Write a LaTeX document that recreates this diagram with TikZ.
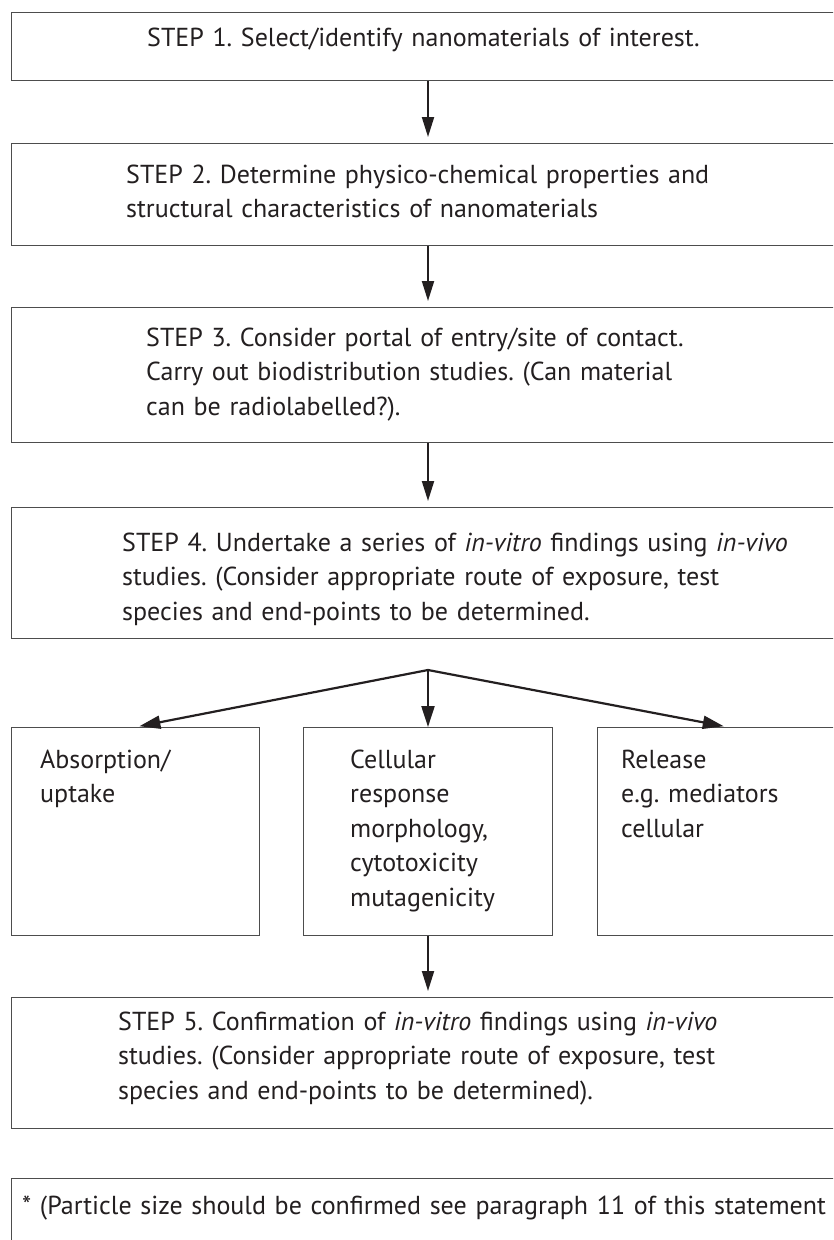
\documentclass[tikz,border=0pt]{standalone}
\usepackage{fontspec}
\setmainfont{PT Sans}
\usetikzlibrary{arrows.meta}
\definecolor{ink}{HTML}{231F20}
\definecolor{boxgray}{HTML}{4D4D4D}
\frenchspacing
\begin{document}
\begin{tikzpicture}[x=1pt,y=-1pt,
  box/.style={draw=boxgray, line width=1.4pt, rectangle, inner sep=0pt, anchor=north west},
  txt/.style={anchor=base west, inner sep=0pt, align=left, text width=760pt,
    font=\fontsize{26}{34.5}\selectfont, text=ink},
  arr/.style={line width=2pt, draw=ink, -{Triangle[length=20pt,width=12pt]}, shorten >=6pt},
  brarr/.style={line width=2.2pt, draw=ink, -{Triangle[length=21pt,width=13pt]}}
]
\useasboundingbox (0,0) rectangle (833,1240);
\clip (0,0) rectangle (833,1240);
\fill[white] (0,0) rectangle (833,1240);

% boxes
\node[box, minimum width=838pt, minimum height=68pt]  (b1) at (10.5,12) {};
\node[box, minimum width=838pt, minimum height=102pt] (b2) at (10.5,143) {};
\node[box, minimum width=838pt, minimum height=135pt] (b3) at (10.5,307) {};
\node[box, minimum width=838pt, minimum height=131pt] (b4) at (10.5,507) {};
\node[box, minimum width=248.5pt, minimum height=208pt] (sa) at (10.5,727) {};
\node[box, minimum width=249pt, minimum height=208pt] (sb) at (303,727) {};
\node[box, minimum width=260pt, minimum height=208pt] (sc) at (597,727) {};
\node[box, minimum width=838pt, minimum height=131pt] (b5) at (10.5,997) {};
\node[box, minimum width=838pt, minimum height=120pt] (fn) at (11,1178) {};

% texts
\node[txt] (t1) at (147,46) {STEP 1. Select/identify nanomaterials of interest.};
\node[txt] (t2) at (126,183) {STEP 2. Determine physico-chemical properties and\\
structural characteristics of nanomaterials};
\node[txt] (t3) at (146,346) {STEP 3. Consider portal of entry/site of contact.\\
Carry out biodistribution studies. (Can material\\
can be radiolabelled?).};
\node[txt] (t4) at (122,551) {STEP 4. Undertake a series of \textit{in-vitro} findings using \textit{in-vivo}\\
studies. (Consider appropriate route of exposure, test\\
species and end-points to be determined.};
\node[txt] (ta) at (40,768) {Absorption/\\uptake};
\node[txt] (tb) at (350,768) {Cellular\\response\\morphology,\\cytotoxicity\\mutagenicity};
\node[txt] (tc) at (621,768) {Release\\e.g. mediators\\cellular};
\node[txt] (t5) at (118,1030) {STEP 5. Confirmation of \textit{in-vitro} findings using \textit{in-vivo}\\
studies. (Consider appropriate route of exposure, test\\
species and end-points to be determined).};
\node[txt, text width=900pt] (tf) at (22,1214) {* (Particle size should be confirmed see paragraph 11 of this statement};

% connectors
\coordinate (sp) at (428,0);
\coordinate (br) at (428,670);
\draw[arr] (b1.south -| sp) -- (b2.north -| sp);
\draw[arr] (b2.south -| sp) -- (b3.north -| sp);
\draw[arr] (b3.south -| sp) -- (b4.north -| sp);
\draw[brarr, shorten >=4pt] (br) -- (sa.north);
\draw[brarr] (br) -- (sb.north -| br);
\draw[brarr, shorten >=4pt] (br) -- (sc.north);
\draw[arr] (sb.south -| sp) -- (b5.north -| sp);
\end{tikzpicture}
\end{document}
